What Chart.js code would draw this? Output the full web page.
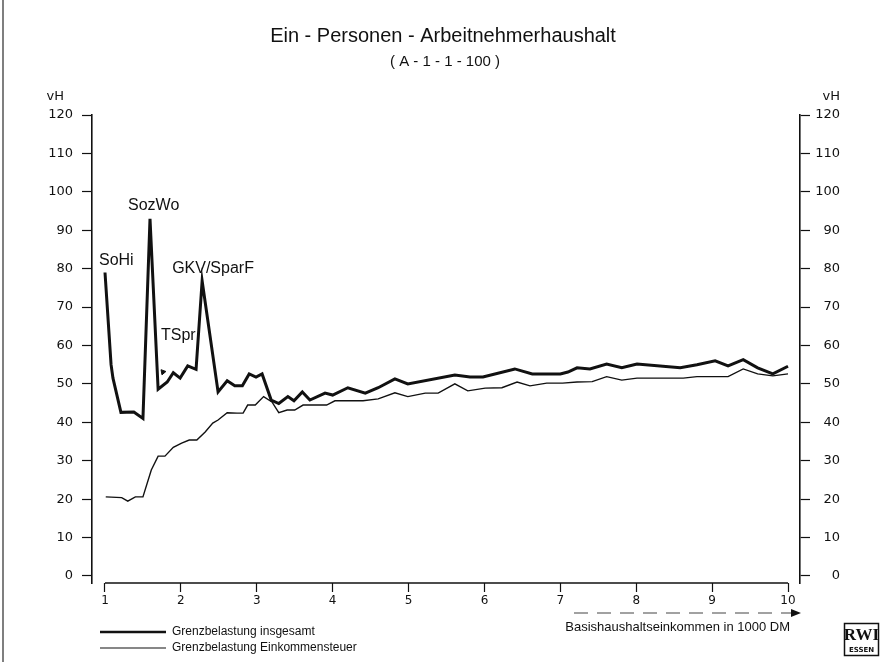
<!DOCTYPE html>
<html><head><meta charset="utf-8">
<script src="https://cdn.jsdelivr.net/npm/chart.js@4/dist/chart.umd.min.js"></script>
<style>html,body{margin:0;padding:0;background:#fff;}</style>
</head><body>
<canvas id="c" width="886" height="662"></canvas>
<script>
// ---- data ----
const xTicks = [1,2,3,4,5,6,7,8,9,10];
const yTicks = [0,10,20,30,40,50,60,70,80,90,100,110,120];

// Grenzbelastung insgesamt
const totalX = [1.0,1.08,1.105,1.21,1.38,1.50,1.593,1.70,1.82,1.90,1.99,2.09,2.20,2.28,2.49,2.61,2.71,2.81,2.90,2.99,3.07,3.19,3.29,3.41,3.49,3.60,3.70,3.90,4.00,4.20,4.43,4.60,4.82,4.99,5.61,5.81,5.98,6.40,6.63,7.00,7.10,7.22,7.39,7.61,7.81,8.01,8.58,8.80,9.04,9.21,9.41,9.60,9.80,10.0];
const totalY = [79,55,51.5,42.6,42.7,41.0,93,48.6,50.5,52.9,51.5,54.7,53.8,76.8,47.9,50.8,49.5,49.5,52.6,51.8,52.6,45.8,44.9,46.7,45.6,47.9,45.8,47.6,47.1,49.0,47.6,49.0,51.3,50.0,52.3,51.8,51.8,53.9,52.6,52.6,53.1,54.2,53.9,55.2,54.2,55.2,54.2,55.0,56.0,54.7,56.3,54.2,52.6,54.6];

// Grenzbelastung Einkommensteuer
const taxX = [1.01,1.22,1.30,1.40,1.50,1.61,1.70,1.79,1.90,2.01,2.11,2.21,2.32,2.42,2.49,2.61,2.74,2.82,2.88,2.98,3.09,3.20,3.29,3.40,3.50,3.61,3.92,4.03,4.40,4.60,4.82,4.99,5.22,5.39,5.61,5.78,6.01,6.23,6.43,6.60,6.82,7.03,7.22,7.42,7.61,7.81,8.01,8.62,8.80,9.21,9.41,9.60,9.80,10.0];
const taxY = [20.6,20.4,19.5,20.6,20.6,27.6,31.2,31.2,33.5,34.6,35.4,35.4,37.5,39.8,40.6,42.5,42.4,42.4,44.5,44.5,46.7,45.3,42.5,43.2,43.2,44.5,44.5,45.6,45.6,46.1,47.7,46.7,47.6,47.6,50.0,48.2,48.9,49.0,50.5,49.5,50.2,50.2,50.5,50.6,51.9,51.0,51.5,51.5,51.9,51.9,53.9,52.6,52.1,52.6];

// annotation labels: text and the data point they sit at
const noteText = ['SoHi','SozWo','GKV/SparF','TSpr'];
const noteX = [1.0, 1.593, 2.28, 1.764];
const noteY = [79, 93, 76.8, 53.1];

const titleText = 'Ein - Personen - Arbeitnehmerhaushalt';
const subtitleText = '( A - 1 - 1 - 100 )';
const xTitle = 'Basishaushaltseinkommen in 1000 DM';
const legendText = ['Grenzbelastung insgesamt','Grenzbelastung Einkommensteuer'];
const unitText = 'vH';

// ---- chart ----
const INK = '#111';
const tickFont = {family:'DejaVu Sans', size:13};
const yMin = -1.823, xMin = 0.8287, xMax = 10.158;

const extras = {
  id:'extras',
  afterDraw(chart){
    const ctx = chart.ctx, xs = chart.scales.x, ys = chart.scales.y, ca = chart.chartArea;
    ctx.save();
    ctx.fillStyle = INK; ctx.strokeStyle = INK;
    // page border
    ctx.lineWidth = 1.5; ctx.strokeStyle = '#555';
    ctx.beginPath(); ctx.moveTo(3,0); ctx.lineTo(3,662); ctx.stroke();
    ctx.strokeStyle = INK;
    // title
    ctx.textAlign = 'center'; ctx.textBaseline = 'middle';
    ctx.font = '20px "Liberation Sans"';
    ctx.fillText(titleText, 443, 36);
    ctx.font = '15px "Liberation Sans"';
    ctx.fillText(subtitleText, 445, 62);
    // units
    ctx.font = '13px "DejaVu Sans"';
    ctx.textAlign = 'right';
    ctx.fillText(unitText, 64, 97);
    ctx.fillText(unitText, 840, 97);
    // x axis line from first to last tick
    ctx.lineWidth = 1.5;
    ctx.beginPath();
    ctx.moveTo(xs.getPixelForValue(xTicks[0]), ca.bottom);
    ctx.lineTo(xs.getPixelForValue(xTicks[xTicks.length-1]), ca.bottom);
    ctx.stroke();
    // annotations
    ctx.font = '16px "Liberation Sans"';
    ctx.textAlign = 'left'; ctx.textBaseline = 'alphabetic';
    const offs = [[-6,-8],[-22,-9],[-30,-8],[-2,-32]];
    noteText.forEach((t,i)=>{
      const px = xs.getPixelForValue(noteX[i]), py = ys.getPixelForValue(noteY[i]);
      ctx.fillText(t, px+offs[i][0], py+offs[i][1]);
    });
    // x title + arrow
    ctx.font = '13px "Liberation Sans Narrow", "Liberation Sans"';
    ctx.textAlign = 'right'; ctx.textBaseline = 'middle';
    ctx.fillText(xTitle, 790, 627);
    ctx.lineWidth = 1.2; ctx.strokeStyle = '#444';
    ctx.setLineDash([14,9]);
    ctx.beginPath(); ctx.moveTo(574,613); ctx.lineTo(792,613); ctx.stroke();
    ctx.setLineDash([]);
    ctx.beginPath(); ctx.moveTo(801,613); ctx.lineTo(791,609); ctx.lineTo(791,617); ctx.closePath(); ctx.fill();
    // legend
    ctx.strokeStyle = INK;
    ctx.font = '12px "Liberation Sans Narrow", "Liberation Sans"';
    ctx.textAlign = 'left';
    ctx.lineWidth = 2.6;
    ctx.beginPath(); ctx.moveTo(100,632); ctx.lineTo(166,632); ctx.stroke();
    ctx.fillText(legendText[0], 172, 632);
    ctx.lineWidth = 1.2;
    ctx.beginPath(); ctx.moveTo(100,648); ctx.lineTo(166,648); ctx.stroke();
    ctx.fillText(legendText[1], 172, 648);
    // logo
    ctx.lineWidth = 1.5;
    ctx.strokeRect(844.5, 623.5, 34, 32);
    ctx.textAlign = 'center';
    ctx.font = 'bold 17px "Liberation Serif"';
    ctx.fillText('RWI', 861.5, 636);
    ctx.font = 'bold 7px "DejaVu Sans"';
    ctx.fillText('ESSEN', 861.5, 650);
    ctx.restore();
  }
};

new Chart(document.getElementById('c'), {
  type:'scatter',
  data:{datasets:[
    {label:legendText[0], data: totalX.map((x,i)=>({x, y: totalY[i]})), showLine:true, borderColor:INK, borderWidth:3, pointRadius:0, tension:0, clip:false, yAxisID:'y'},
    {label:legendText[1], data: taxX.map((x,i)=>({x, y: taxY[i]})), showLine:true, borderColor:INK, borderWidth:1.4, pointRadius:0, tension:0, clip:false, yAxisID:'y'},
    {label:'TSpr', data:[{x:noteX[3], y:noteY[3]}], showLine:false, pointStyle:'triangle', pointRadius:3, rotation:-40, backgroundColor:INK, borderColor:INK, yAxisID:'y'}
  ]},
  options:{
    responsive:false, animation:false, devicePixelRatio:1,
    layout:{padding:{left:42, right:46, top:115, bottom:49}},
    plugins:{legend:{display:false}, tooltip:{enabled:false}},
    scales:{
      x:{type:'linear', position:'bottom', min:xMin, max:xMax,
        afterBuildTicks(s){ s.ticks = xTicks.map(v=>({value:v})); },
        afterFit(s){ s.height = 30; },
        ticks:{color:INK, font:{family:'DejaVu Sans', size:12}, padding:2, maxRotation:0, autoSkip:false},
        grid:{drawOnChartArea:false, drawTicks:true, tickLength:9, tickColor:INK, tickWidth:1.2},
        border:{display:false}},
      y:{type:'linear', position:'left', min:yMin, max:120,
        afterBuildTicks(s){ s.ticks = yTicks.map(v=>({value:v})); },
        afterFit(s){ s.width = 50; },
        ticks:{color:INK, font:tickFont, padding:9},
        grid:{drawOnChartArea:false, drawTicks:true, tickLength:10, tickColor:INK, tickWidth:1.2},
        border:{display:true, color:INK, width:1.6}},
      y2:{type:'linear', position:'right', min:yMin, max:120,
        afterBuildTicks(s){ s.ticks = yTicks.map(v=>({value:v})); },
        afterFit(s){ s.width = 40; },
        ticks:{color:INK, font:tickFont, padding:6, crossAlign:'far'},
        grid:{drawOnChartArea:false, drawTicks:true, tickLength:10, tickColor:INK, tickWidth:1.2},
        border:{display:true, color:INK, width:1.6}}
    }
  },
  plugins:[extras]
});
</script>
</body></html>
